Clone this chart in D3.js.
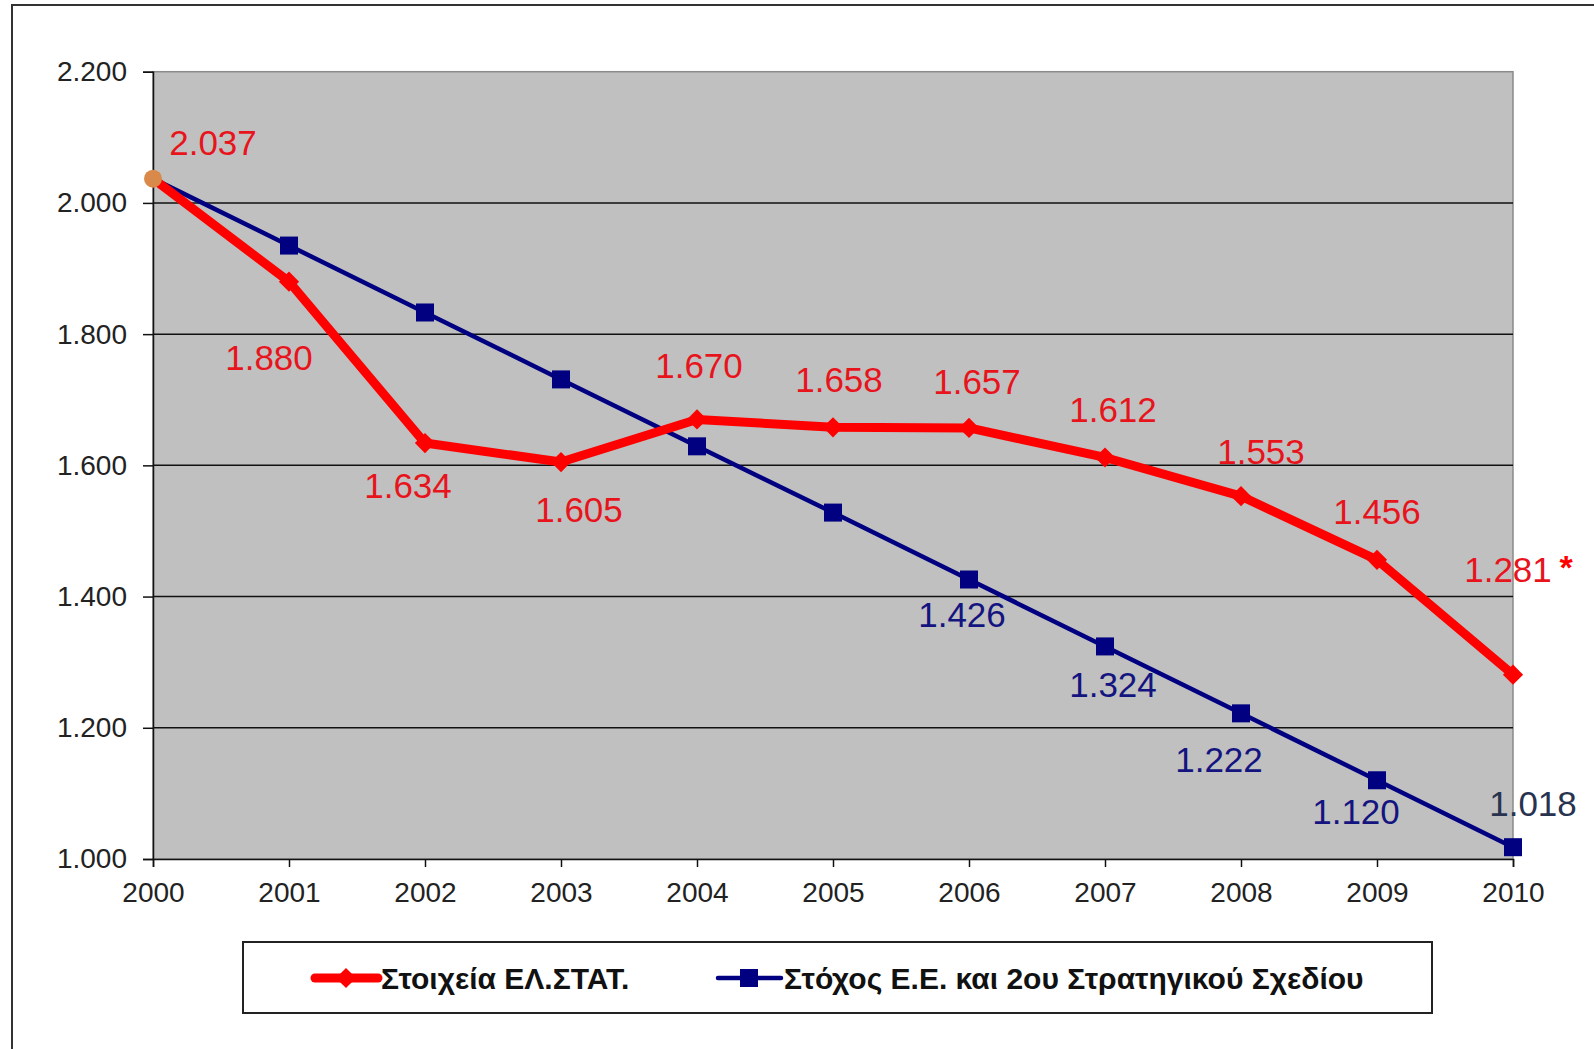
<!DOCTYPE html>
<html>
<head>
<meta charset="utf-8">
<script src="https://cdn.jsdelivr.net/npm/d3@7"></script>
<style>
  html, body { margin: 0; padding: 0; background: #fff; }
  svg { display: block; }
</style>
</head>
<body>
<svg id="chart" width="1594" height="1049"></svg>
<script>
// data
const years = [2000, 2001, 2002, 2003, 2004, 2005, 2006, 2007, 2008, 2009, 2010];
const elstat = [2037, 1880, 1634, 1605, 1670, 1658, 1657, 1612, 1553, 1456, 1281];
const target = [2037, 1935, 1833, 1731, 1629, 1528, 1426, 1324, 1222, 1120, 1018];
const yTicks = [1000, 1200, 1400, 1600, 1800, 2000, 2200];
const seriesNames = ['Στοιχεία ΕΛ.ΣΤΑΤ.', 'Στόχος Ε.Ε. και 2ου Στρατηγικού Σχεδίου'];
// which target points get a label (index)
const targetLabelIdx = [6, 7, 8, 9, 10];

// label nudges in px, relative to the point (layout only)
const elstatLabelOff = [[60, -36], [-20, 76], [-17, 42], [18, 47], [2, -54], [6, -48], [8, -47], [8, -48], [20, -45], [0, -48], [-5, -105]];
const targetLabelOff = [[-7, 35], [8, 38], [-22, 46], [-21, 31], [20, -44]];

const svg = d3.select('#chart');
const plotL = 153, plotR = 1513, plotT = 71.7, plotB = 859;

const x = d3.scaleLinear().domain([2000, 2010]).range([plotL, plotR]);
const y = d3.scaleLinear().domain([1000, 2200]).range([plotB, plotT]);
const fmt = v => d3.format(',')(v).replace(',', '.');

// outer frame (cut off at right/bottom)
svg.append('rect')
  .attr('x', 12).attr('y', 5)
  .attr('width', 1600).attr('height', 1060)
  .attr('fill', 'none').attr('stroke', '#333').attr('stroke-width', 2);

// plot area
svg.append('rect')
  .attr('x', plotL).attr('y', plotT)
  .attr('width', plotR - plotL).attr('height', plotB - plotT)
  .attr('fill', '#c0c0c0').attr('stroke', '#8a8a8a').attr('stroke-width', 1.5);

// grid lines
svg.append('g')
  .selectAll('line')
  .data(yTicks.filter(t => t > 1000 && t < 2200))
  .join('line')
  .attr('x1', plotL).attr('x2', plotR)
  .attr('y1', d => y(d)).attr('y2', d => y(d))
  .attr('stroke', '#111').attr('stroke-width', 1.5);

// axes
const yAxis = svg.append('g')
  .attr('transform', `translate(${plotL},0)`)
  .call(d3.axisLeft(y).tickValues(yTicks).tickFormat(fmt).tickSize(10).tickPadding(16));
const xAxis = svg.append('g')
  .attr('transform', `translate(0,${plotB})`)
  .call(d3.axisBottom(x).tickValues(years).tickFormat(d3.format('d')).tickSize(8).tickPadding(15));

[yAxis, xAxis].forEach(a => {
  a.select('.domain').attr('stroke', '#111').attr('stroke-width', 1.5);
  a.selectAll('.tick line').attr('stroke', '#111').attr('stroke-width', 1.5);
  a.selectAll('text')
    .attr('font-family', '"Liberation Sans", Arial, sans-serif')
    .attr('font-size', 28)
    .attr('fill', '#222');
});
yAxis.selectAll('text').attr('dy', '0.32em');
xAxis.selectAll('text').attr('dy', '0.72em');

const line = d3.line().x((d, i) => x(years[i])).y(d => y(d));

// target series (blue)
svg.append('path')
  .datum(target)
  .attr('d', line)
  .attr('fill', 'none').attr('stroke', '#000080').attr('stroke-width', 4.5);
svg.append('g')
  .selectAll('rect')
  .data(target.slice(1))
  .join('rect')
  .attr('x', (d, i) => x(years[i + 1]) - 9)
  .attr('y', d => y(d) - 9)
  .attr('width', 18).attr('height', 18)
  .attr('fill', '#000080');

// ELSTAT series (red)
svg.append('path')
  .datum(elstat)
  .attr('d', line)
  .attr('fill', 'none').attr('stroke', '#ff0000').attr('stroke-width', 9)
  .attr('stroke-linejoin', 'round');
svg.append('g')
  .selectAll('path')
  .data(elstat.slice(1))
  .join('path')
  .attr('d', d3.symbol(d3.symbolDiamond2, 260))
  .attr('transform', (d, i) => `translate(${x(years[i + 1])},${y(d)})`)
  .attr('fill', '#ff0000');

// first point
svg.append('circle')
  .attr('cx', x(years[0])).attr('cy', y(elstat[0]))
  .attr('r', 9).attr('fill', '#d98a4a');

// data labels
const labelFont = '"Liberation Sans", Arial, sans-serif';
svg.append('g')
  .selectAll('text')
  .data(elstat)
  .join('text')
  .attr('x', (d, i) => x(years[i]) + elstatLabelOff[i][0])
  .attr('y', (d, i) => y(d) + elstatLabelOff[i][1])
  .attr('text-anchor', 'middle')
  .attr('dy', '0.36em')
  .attr('font-family', labelFont)
  .attr('font-size', 35)
  .attr('fill', '#e8141c')
  .text(d => fmt(d));

svg.append('text')
  .attr('x', x(2010) + 53)
  .attr('y', y(elstat[10]) - 116)
  .attr('text-anchor', 'middle')
  .attr('dy', '0.6em')
  .attr('font-family', labelFont)
  .attr('font-weight', 'bold')
  .attr('font-size', 34)
  .attr('fill', '#ff0000')
  .text('*');

svg.append('g')
  .selectAll('text')
  .data(targetLabelIdx)
  .join('text')
  .attr('x', (k, j) => x(years[k]) + targetLabelOff[j][0])
  .attr('y', (k, j) => y(target[k]) + targetLabelOff[j][1])
  .attr('text-anchor', 'middle')
  .attr('dy', '0.36em')
  .attr('font-family', labelFont)
  .attr('font-size', 35)
  .attr('fill', k => k === 10 ? '#27334f' : '#141480')
  .text(k => fmt(target[k]));

// legend
const lg = svg.append('g');
lg.append('rect')
  .attr('x', 243).attr('y', 942)
  .attr('width', 1189).attr('height', 71)
  .attr('fill', '#fff').attr('stroke', '#222').attr('stroke-width', 2);

const legendItems = [
  { name: seriesNames[0], color: '#ff0000', width: 9, marker: 'diamond', x0: 315 },
  { name: seriesNames[1], color: '#000080', width: 4.5, marker: 'square', x0: 718 }
];
const ly = 978;
legendItems.forEach(it => {
  lg.append('line')
    .attr('x1', it.x0).attr('x2', it.x0 + 63)
    .attr('y1', ly).attr('y2', ly)
    .attr('stroke', it.color).attr('stroke-width', it.width)
    .attr('stroke-linecap', 'round');
  if (it.marker === 'diamond') {
    lg.append('path')
      .attr('d', d3.symbol(d3.symbolDiamond2, 260))
      .attr('transform', `translate(${it.x0 + 31},${ly})`)
      .attr('fill', it.color);
  } else {
    lg.append('rect')
      .attr('x', it.x0 + 22).attr('y', ly - 9)
      .attr('width', 18).attr('height', 18)
      .attr('fill', it.color);
  }
  lg.append('text')
    .attr('x', it.x0 + 66).attr('y', ly)
    .attr('dy', '0.36em')
    .attr('font-family', '"Liberation Sans Narrow", "Arial Narrow", "Liberation Sans", sans-serif')
    .attr('font-weight', 'bold')
    .attr('font-size', 30)
    .attr('fill', '#111')
    .text(it.name);
});
</script>
</body>
</html>
